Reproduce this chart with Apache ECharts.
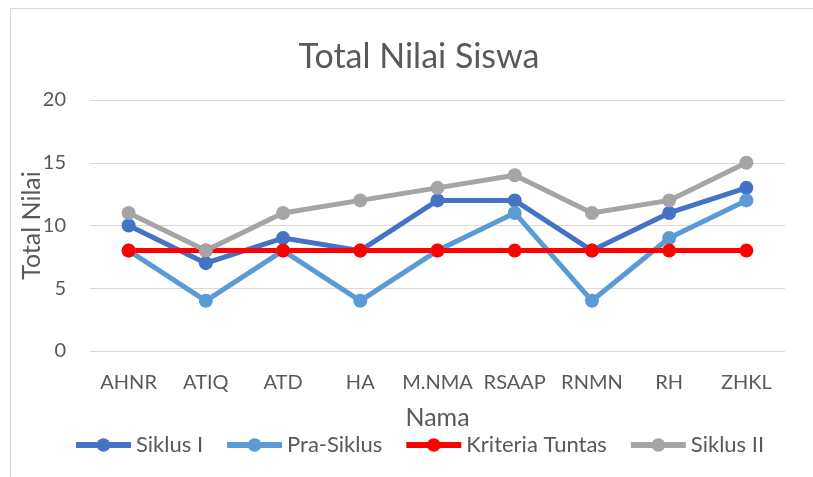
<!DOCTYPE html>
<html><head><meta charset="utf-8">
<script src="https://cdn.jsdelivr.net/npm/echarts@6/dist/echarts.min.js"></script>
<style>html,body{margin:0;padding:0;background:#fff}#c{width:813px;height:477px}</style>
</head><body><div id="c"></div>
<script>
const categories = ['AHNR','ATIQ','ATD','HA','M.NMA','RSAAP','RNMN','RH','ZHKL'];
const siklusI = [10,7,9,8,12,12,8,11,13];
const praSiklus = [8,4,8,4,8,11,4,9,12];
const kriteria = [8,8,8,8,8,8,8,8,8];
const siklusII = [11,8,11,12,13,14,11,12,15];
const yTicks = [0,5,10,15,20];
const seriesNames = ['Siklus I','Pra-Siklus','Kriteria Tuntas','Siklus II'];
const seriesColors = ['#4472C4','#5B9BD5','#FF0000','#A5A5A5'];

const FONT = 'Lato';
const TXT = '#595959';
function s(i, data){
  const color = seriesColors[i];
  return {name:seriesNames[i], type:'line', data, symbol:'circle', symbolSize:14,
    lineStyle:{width:5,color}, itemStyle:{color}, emphasis:{disabled:true}, animation:false};
}
const chart = echarts.init(document.getElementById('c'), null, {renderer:'canvas'});
chart.setOption({
  backgroundColor:'#fff',
  animation:false,
  textStyle:{fontFamily:FONT},
  graphic:[{type:'rect', shape:{x:10.5,y:8.5,width:820,height:490}, style:{fill:'none',stroke:'#d9d9d9',lineWidth:1}}],
  title:{text:'Total Nilai Siswa', left:414, textAlign:'center', top:35, textStyle:{fontFamily:FONT,fontSize:34,fontWeight:'normal',color:TXT}},
  grid:{left:90, right:28, top:100, bottom:126},
  legend:{bottom:16, left:68, itemWidth:55, itemHeight:17, itemGap:21,
    textStyle:{fontFamily:FONT,fontSize:22,color:TXT},
    data:seriesNames.map((n,i)=>({name:n, lineStyle:{width:6,color:seriesColors[i]}, itemStyle:{color:seriesColors[i]}}))},
  xAxis:{type:'category', data:categories, boundaryGap:true, name:'Nama', nameLocation:'middle', nameGap:54,
    nameTextStyle:{fontFamily:FONT,fontSize:25,color:TXT},
    axisLine:{show:false}, axisTick:{show:false},
    axisLabel:{fontFamily:FONT,fontSize:20,color:TXT,margin:22,interval:0}},
  yAxis:{type:'value', min:yTicks[0], max:yTicks[yTicks.length-1], interval:5, name:'Total Nilai', nameLocation:'middle', nameGap:46,
    nameMoveOverlap:false,
    nameTextStyle:{fontFamily:FONT,fontSize:25,color:TXT},
    axisLine:{show:false}, axisTick:{show:false},
    axisLabel:{fontFamily:FONT,fontSize:20,color:TXT,margin:24},
    splitLine:{lineStyle:{color:'#d9d9d9',width:1}}},
  series:[
    s(0, siklusI),
    s(1, praSiklus),
    s(2, kriteria),
    s(3, siklusII)
  ]
});
</script></body></html>
